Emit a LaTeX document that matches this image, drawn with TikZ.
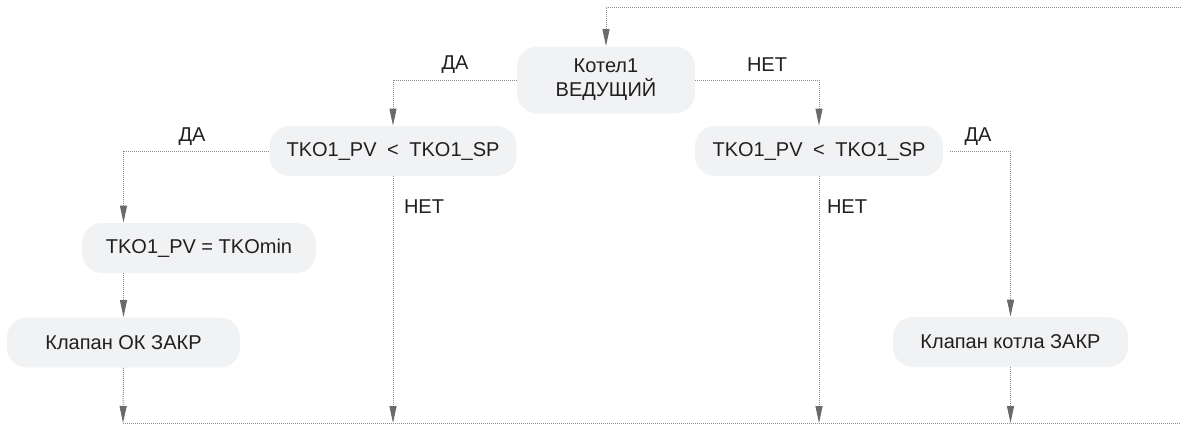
\documentclass[tikz,border=0pt]{standalone}
\usepackage{fontspec}
\setmainfont{Liberation Sans}
\usetikzlibrary{arrows.meta}
\definecolor{boxGray}{RGB}{241,242,243}
\definecolor{lineGray}{RGB}{140,140,140}
\definecolor{tipGray}{RGB}{105,106,110}
\definecolor{textDark}{RGB}{35,31,32}

\begin{document}
\begin{tikzpicture}[x=0.5pt, y=-0.5pt,
	stepBox/.style={fill=boxGray, rounded corners=10pt, align=center, inner sep=0pt,
		minimum height=25pt, text=textDark, font=\fontsize{10}{12}\selectfont},
	flowLine/.style={draw=lineGray, line width=0.5pt, dash pattern=on 0.5pt off 0.5pt},
	flowArrow/.style={flowLine, -{Triangle[length=8.5pt, width=3.5pt, color=tipGray]}},
	branchLabel/.style={text=textDark, font=\fontsize{10}{12}\selectfont}]
	\useasboundingbox (0,0) rectangle (1181,424);
	% Boiler selection
	\node[stepBox, minimum width=89pt, minimum height=33.5pt] (kotel) at (606,80) {Котел1\\ВЕДУЩИЙ};
	\node[stepBox, minimum width=123.5pt] (cmpL) at (393,151) {TKO1\_PV\hspace{2.5pt} < \hspace{2.5pt}TKO1\_SP};
	\node[stepBox, minimum width=124pt] (cmpR) at (819,151) {TKO1\_PV\hspace{2.5pt} < \hspace{2.5pt}TKO1\_SP};
	% Left branch
	\node[stepBox, minimum width=117pt] (setmin) at (199,248) {TKO1\_PV = TKOmin};
	\node[stepBox, minimum width=116.5pt] (valveL) at (123.5,342.5) {Клапан ОК ЗАКР};
	% Right branch
	\node[stepBox, minimum width=117.5pt] (valveR) at (1010.5,342) {Клапан котла ЗАКР};
	% Branch labels
	\node[branchLabel] (yesTop) at (455,65) {ДА};
	\node[branchLabel] (noTop) at (767,65) {НЕТ};
	\node[branchLabel] (yesL) at (192,137) {ДА};
	\node[branchLabel] (noL) at (424,207) {НЕТ};
	\node[branchLabel] (noR) at (847,207) {НЕТ};
	\node[branchLabel] (yesR) at (978,137) {ДА};
	% Loop return and merge line
	\coordinate (loopIn) at (1181,7);
	\coordinate (mergeL) at (123,423);
	\coordinate (mergeR) at (1181,423);
	\draw[flowArrow] (loopIn) -| (kotel.north);
	\draw[flowArrow] (kotel.west) -| (cmpL.north);
	\draw[flowArrow] (kotel.east) -| (cmpR.north);
	\draw[flowArrow] (cmpL.west) -| (valveL |- setmin.north);
	\draw[flowArrow] (valveL |- setmin.south) -- (valveL.north);
	\draw[flowArrow] (valveL.south) -- (mergeL);
	\draw[flowArrow] (cmpL.south) -- (cmpL.south |- mergeL);
	\draw[flowArrow] (cmpR.south) -- (cmpR.south |- mergeL);
	\draw[flowArrow] ([xshift=3.5pt]cmpR.east) -| (valveR.north);
	\draw[flowArrow] (valveR.south) -- (valveR.south |- mergeL);
	\draw[flowLine] (mergeL) -- (mergeR);
\end{tikzpicture}
\end{document}
